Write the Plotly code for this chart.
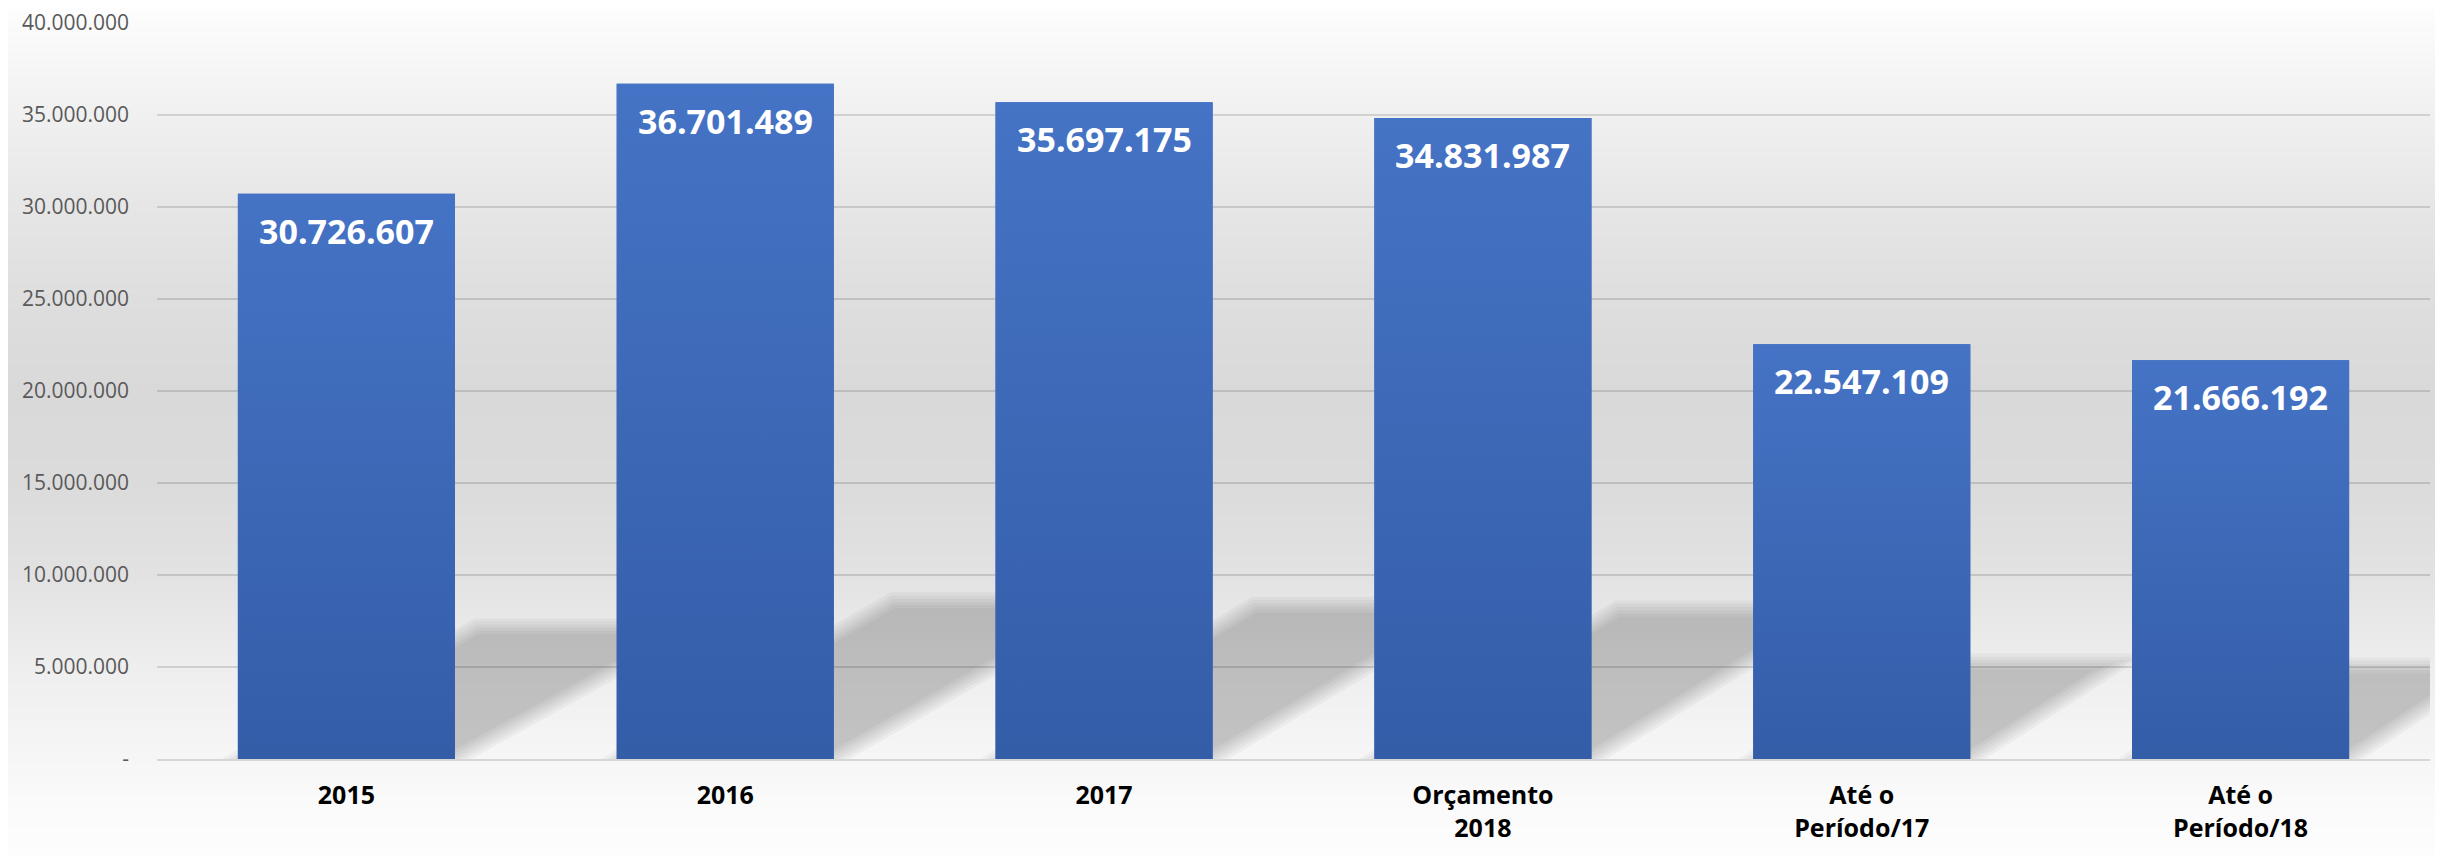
import base64, struct, zlib
import plotly.graph_objects as go

# ---------------- data ----------------
categories = ["2015", "2016", "2017", "Orçamento<br>2018", "Até o<br>Período/17", "Até o<br>Período/18"]
values = [30726607, 36701489, 35697175, 34831987, 22547109, 21666192]
y_tickvals = [0, 5000000, 10000000, 15000000, 20000000, 25000000, 30000000, 35000000, 40000000]
y_ticktext = ["-", "5.000.000", "10.000.000", "15.000.000", "20.000.000",
              "25.000.000", "30.000.000", "35.000.000", "40.000.000"]

# ---------------- layout constants ----------------
BODY = 8                          # default page margin of the html body
W, H = 2443 - BODY, 856 - BODY
ML, MR, MT, MB = 157 - BODY, 13, 23 - BODY, 97
PW, PH = W - ML - MR, H - MT - MB
YMAX = 40000000
BARW = 0.573
PX_X = PW / len(categories)      # px per category unit
PX_Y = PH / YMAX                 # px per value unit

# ---------------- background gradient as a 1px-wide png ----------------
stops = [(0, 255), (23, 251), (115, 240), (207, 230), (300, 222), (391, 217),
         (483, 219), (575, 226), (620, 232), (667, 238), (759, 246), (800, 250), (856, 253)]
def gray_at(yy):
    for (y0, g0), (y1, g1) in zip(stops, stops[1:]):
        if y0 <= yy <= y1:
            t = (yy - y0) / (y1 - y0) if y1 > y0 else 0
            return int(round(g0 + (g1 - g0) * t))
    return stops[-1][1]

def make_png(rows):
    raw = b"".join(b"\x00" + bytes([v]) for v in rows)
    def chunk(tag, data):
        c = struct.pack(">I", len(data)) + tag + data
        return c + struct.pack(">I", zlib.crc32(tag + data) & 0xFFFFFFFF)
    ihdr = struct.pack(">IIBBBBB", 1, len(rows), 8, 0, 0, 0, 0)
    return b"\x89PNG\r\n\x1a\n" + chunk(b"IHDR", ihdr) + chunk(b"IDAT", zlib.compress(raw)) + chunk(b"IEND", b"")

bg_png = make_png([gray_at(y + BODY + 0.5) for y in range(H)])
bg_src = "data:image/png;base64," + base64.b64encode(bg_png).decode()

fig = go.Figure()

# bars (data)
xs = list(range(len(categories)))
fig.add_trace(go.Bar(x=xs, y=values, width=BARW, marker=dict(color="#3d69b8", line=dict(width=0)),
                     hoverinfo="skip", showlegend=False))

# gradient overlay on each bar (derived from the same values)
for i, v in enumerate(values):
    x0, x1 = i - BARW / 2, i + BARW / 2
    fig.add_trace(go.Scatter(
        x=[x0, x1, x1, x0, x0], y=[0, 0, v, v, 0], mode="lines", line=dict(width=0),
        fill="toself", fillgradient=dict(type="vertical",
                                         colorscale=[[0, "#345da8"], [1, "#4573c5"]]),
        hoverinfo="skip", showlegend=False))

# soft perspective shadows behind each bar
shapes = []
SH_RATIO = 0.235
for i, v in enumerate(values):
    k = 1.8 - 0.062 * i
    hpx = v * SH_RATIO * PX_Y
    xl_px = (i - BARW / 2) * PX_X
    xr_px = (i + BARW / 2) * PX_X
    root = (1 + k * k) ** 0.5
    for d in [-8, -4.8, -1.6, 1.6, 4.8, 8]:
        s = d * root
        top = hpx - d
        pts = [(xl_px + s, 0), (xr_px - s, 0), (xr_px - s + k * top, top), (xl_px + s + k * top, top)]
        path = "M " + " L ".join(f"{px / PX_X:.5f},{py / PX_Y:.1f}" for px, py in pts) + " Z"
        shapes.append(dict(type="path", path=path, xref="x", yref="y", layer="below",
                           fillcolor="rgba(0,0,0,0.035)", line=dict(width=0)))

# value labels
annotations = []
for i, v in enumerate(values):
    annotations.append(dict(x=i, y=v, xref="x", yref="y", text=f"{v:,}".replace(",", "."),
                            showarrow=False, yanchor="middle", yshift=-37,
                            font=dict(family="Open Sans", size=34, color="white", weight="bold")))

fig.update_layout(
    width=W, height=H,
    margin=dict(l=ML, r=MR, t=MT, b=MB, autoexpand=False),
    paper_bgcolor="white", plot_bgcolor="rgba(0,0,0,0)",
    shapes=shapes, annotations=annotations,
    images=[dict(source=bg_src, xref="paper", yref="paper", x=-ML / PW, y=(PH + MT) / PH,
                 sizex=W / PW, sizey=H / PH, xanchor="left", yanchor="top",
                 sizing="stretch", layer="below")],
    bargap=0.4,
    showlegend=False,
    xaxis=dict(range=[-0.5, len(categories) - 0.5], tickvals=xs, ticktext=categories,
               showgrid=False, zeroline=False, showline=True, linecolor="#d6d6d6", linewidth=2,
               ticks="", ticklabelstandoff=13,
               tickfont=dict(family="Open Sans", size=25, color="black", weight="bold"),
               fixedrange=True),
    yaxis=dict(range=[0, YMAX], tickvals=y_tickvals, ticktext=y_ticktext,
               showgrid=True, gridcolor="rgba(0,0,0,0.13)", gridwidth=2,
               zeroline=False, showline=False, ticks="", ticklabelstandoff=27,
               tickfont=dict(family="Open Sans", size=21, color="#595959"),
               fixedrange=True),
)

fig.write_html("out.html")
